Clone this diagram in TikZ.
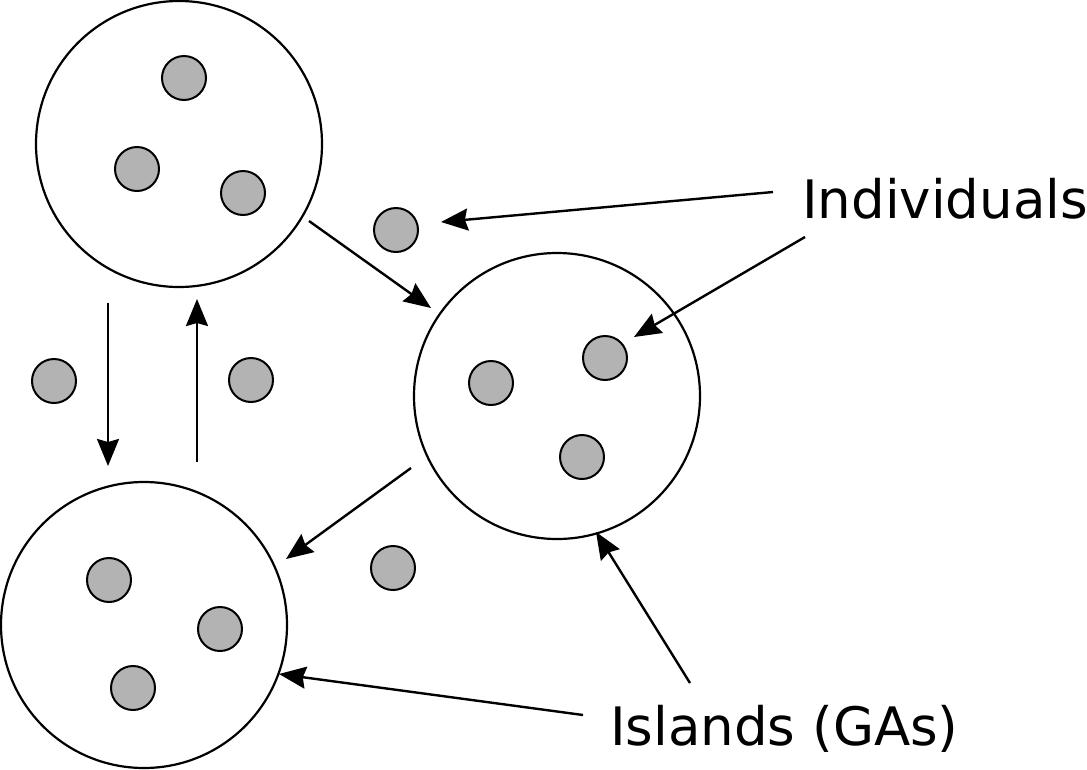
\documentclass[tikz,border=0pt]{standalone}
\usepackage{fontspec}
\setmainfont{DejaVu Sans}
\usetikzlibrary{arrows.meta}
\definecolor{indiv}{RGB}{179,179,179}
\begin{document}
\begin{tikzpicture}[x=1pt,y=-1pt,
  island/.style={draw=black,line width=2.2pt,circle,minimum size=286pt,inner sep=0pt,fill=white},
  ind/.style={draw=black,line width=2pt,circle,minimum size=44pt,inner sep=0pt,fill=indiv},
  arr/.style={line width=2.4pt,-{Stealth[length=27pt,width=22pt,inset=3pt]}},
  lbl/.style={font=\fontsize{53}{60}\selectfont,inner sep=0pt,anchor=base west}]
\useasboundingbox (0,0) rectangle (1087,769);
\node[island] (i1) at (179,144) {};
\node[island] (i2) at (557,396) {};
\node[island] (i3) at (144,625) {};
\node[ind] (a1) at (184,78) {};
\node[ind] (a2) at (137,169) {};
\node[ind] (a3) at (243,193) {};
\node[ind] (f1) at (396,230) {};
\node[ind] (f2) at (54,381) {};
\node[ind] (f3) at (251,380) {};
\node[ind] (f4) at (393,568) {};
\node[ind] (b1) at (491,383) {};
\node[ind] (b2) at (605,358) {};
\node[ind] (b3) at (582,457) {};
\node[ind] (c1) at (109,580) {};
\node[ind] (c2) at (220,629) {};
\node[ind] (c3) at (133,688) {};
\node[lbl] (tind) at (802,218) {Individuals};
\node[lbl] (tisl) at (610,745) {Islands (GAs)};
\coordinate (m1s) at (309,221); \coordinate (m1e) at (431,308);
\coordinate (m2s) at (108,303); \coordinate (m2e) at (108,466);
\coordinate (m3s) at (197,462); \coordinate (m3e) at (197,299);
\coordinate (m4s) at (411,468); \coordinate (m4e) at (286,559);
\coordinate (p1s) at (773,192); \coordinate (p1e) at (441,222);
\coordinate (p2s) at (805,237); \coordinate (p2e) at (634,337);
\coordinate (q1s) at (690,683); \coordinate (q1e) at (596,532);
\coordinate (q2s) at (583,715); \coordinate (q2e) at (279,674);
\draw[arr] (m1s) -- (m1e);
\draw[arr] (m2s) -- (m2e);
\draw[arr] (m3s) -- (m3e);
\draw[arr] (m4s) -- (m4e);
\draw[arr] (p1s) -- (p1e);
\draw[arr] (p2s) -- (p2e);
\draw[arr] (q1s) -- (q1e);
\draw[arr] (q2s) -- (q2e);
\end{tikzpicture}
\end{document}
